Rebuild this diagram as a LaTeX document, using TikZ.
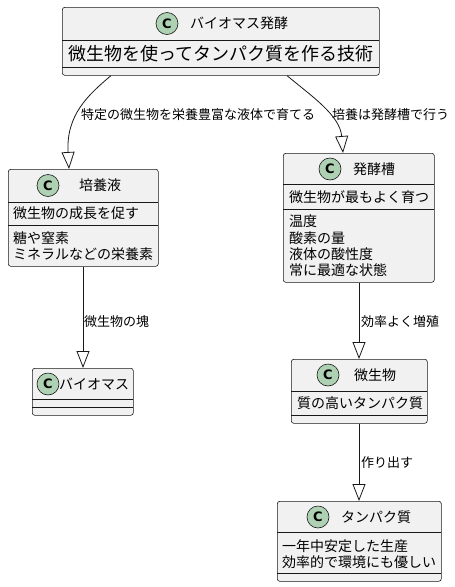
\documentclass[tikz,border=0pt]{standalone}
\usepackage{fontspec}
\setmainfont{Noto Sans CJK JP}
\newfontfamily\cfont{DejaVu Sans}
\usetikzlibrary{arrows.meta,calc}
\definecolor{boxfill}{HTML}{F1F1F1}
\definecolor{boxline}{HTML}{181818}
\definecolor{circfill}{HTML}{ADD1B2}
\tikzset{
  classbox/.style={draw=boxline, fill=boxfill, line width=0.6pt, rounded corners=2.5pt,
    anchor=north west, inner sep=0pt, rectangle},
  sep/.style={draw=boxline, line width=0.6pt},
  cmark/.style={circle, draw=boxline, fill=circfill, line width=0.6pt, minimum size=22pt,
    inner sep=0pt, font=\cfont\bfseries\fontsize{13}{13}\selectfont},
  ttl/.style={anchor=west, inner sep=0pt, font=\fontsize{14}{16}\selectfont},
  mem/.style={anchor=west, inner sep=0pt, font=\fontsize{14}{16}\selectfont},
  big/.style={anchor=west, inner sep=0pt, font=\fontsize{18}{20}\selectfont},
  lbl/.style={anchor=west, inner sep=0pt, font=\fontsize{13}{15}\selectfont},
  inh/.style={draw=boxline, line width=0.8pt,
    -{Triangle[open, length=17pt, width=13pt, line width=0.8pt]}},
}
\begin{document}
\begin{tikzpicture}[x=1pt, y=-1pt]
\useasboundingbox (0,0) rectangle (455,587);

% バイオマス発酵
\node[classbox, minimum width=317pt, minimum height=68pt] (b1) at (62,7) {};
\draw[sep] (62,40) -- (379,40);
\draw[sep] (62,67) -- (379,67);
\node[cmark] (b1c) at (167,23.5) {C};
\node[ttl] (b1t) at (190,23.5) {バイオマス発酵};
\node[big] (b1m) at (68,53.5) {微生物を使ってタンパク質を作る技術};

% 培養液
\node[classbox, minimum width=150pt, minimum height=97pt] (cul) at (8,169) {};
\draw[sep] (8,202) -- (158,202);
\draw[sep] (8,225) -- (158,225);
\node[cmark] (culc) at (48,185.5) {C};
\node[ttl] (cult) at (79,185.5) {培養液};
\node[mem] (culm) at (13,213) {微生物の成長を促す};
\node[mem] (culf1) at (13,238) {糖や窒素};
\node[mem] (culf2) at (13,254) {ミネラルなどの栄養素};

% 発酵槽
\node[classbox, minimum width=151pt, minimum height=129pt] (fer) at (283,153) {};
\draw[sep] (283,184) -- (434,184);
\draw[sep] (283,209) -- (434,209);
\node[cmark] (ferc) at (330,169) {C};
\node[ttl] (fert) at (353,169) {発酵槽};
\node[mem] (ferm) at (289,197) {微生物が最もよく育つ};
\node[mem] (ferf1) at (289,221) {温度};
\node[mem] (ferf2) at (289,238) {酸素の量};
\node[mem] (ferf3) at (289,254) {液体の酸性度};
\node[mem] (ferf4) at (289,270) {常に最適な状態};

% バイオマス
\node[classbox, minimum width=101pt, minimum height=47pt] (bio) at (32,368) {};
\draw[sep] (32,399) -- (133,399);
\draw[sep] (32,407) -- (133,407);
\node[cmark] (bioc) at (48,384) {C};
\node[ttl] (biot) at (59,384) {バイオマス};

% 微生物
\node[classbox, minimum width=136pt, minimum height=64pt] (mic) at (291,359) {};
\draw[sep] (291,391) -- (427,391);
\draw[sep] (291,415) -- (427,415);
\node[cmark] (micc) at (328,375) {C};
\node[ttl] (mict) at (354,375) {微生物};
\node[mem] (micm) at (297,403) {質の高いタンパク質};

% タンパク質
\node[classbox, minimum width=164pt, minimum height=80pt] (pro) at (277,501) {};
\draw[sep] (277,532) -- (441,532);
\draw[sep] (277,573) -- (441,573);
\node[cmark] (proc) at (318,517) {C};
\node[ttl] (prot) at (341,517) {タンパク質};
\node[mem] (prom1) at (282,546) {一年中安定した生産};
\node[mem] (prom2) at (282,562) {効率的で環境にも優しい};

% connectors
\draw[inh] ([xshift=49pt]b1.south west) .. controls (88,95) and (66,115) .. ([xshift=61pt]cul.north west);
\node[lbl] (l1) at (81,115) {特定の微生物を栄養豊富な液体で育てる};
\draw[inh] ([xshift=225pt]b1.south west) .. controls (310,95) and (340,115) .. ([xshift=60pt]fer.north west);
\node[lbl] (l2) at (332,115) {培養は発酵槽で行う};
\draw[inh] ([xshift=75pt]cul.south west) -- ([xshift=51pt]bio.north west);
\node[lbl] (l3) at (84,322) {微生物の塊};
\draw[inh] ([xshift=76pt]fer.south west) -- ([xshift=68pt]mic.north west);
\node[lbl] (l4) at (361,322) {効率よく増殖};
\draw[inh] ([xshift=68pt]mic.south west) -- ([xshift=82pt]pro.north west);
\node[lbl] (l5) at (361,463) {作り出す};
\end{tikzpicture}
\end{document}
